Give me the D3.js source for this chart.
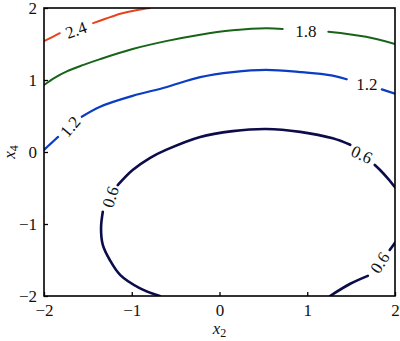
<!DOCTYPE html>
<html><head><meta charset="utf-8">
<script src="https://cdn.jsdelivr.net/npm/d3@7"></script>
<style>body{margin:0;background:#fff}svg{display:block}
svg text{font-family:"Liberation Serif",serif}</style>
</head><body>
<svg id="c" width="400" height="341"></svg>
<script>
// ---- data ----
const xTicks = [-2, -1, 0, 1, 2];
const yTicks = [-2, -1, 0, 1, 2];
const levels = ["0.6", "1.2", "1.8", "2.4"];

// contour 2.4 (segments split where the label sits)
const c24a = [[-2, 1.54], [-1.9, 1.6], [-1.82, 1.65]];
const c24b = [[-1.44, 1.79], [-1.3, 1.85], [-1.13, 1.92], [-0.95, 1.97], [-0.79, 2.0]];
// contour 1.8
const c18a = [[-2, 0.93], [-1.88, 1.03], [-1.74, 1.12], [-1.55, 1.21], [-1.36, 1.29], [-0.99, 1.43], [-0.61, 1.54], [-0.22, 1.63], [0.15, 1.69], [0.53, 1.72], [0.72, 1.71]];
const c18b = [[1.24, 1.67], [1.67, 1.6], [2, 1.5]];
// contour 1.2
const c12a = [[-2, 0.03], [-1.92, 0.12], [-1.84, 0.21]];
const c12b = [[-1.57, 0.49], [-1.36, 0.63], [-0.99, 0.78], [-0.61, 0.9], [-0.22, 1.04], [0.15, 1.11], [0.53, 1.14], [0.92, 1.11], [1.29, 1.06], [1.45, 1.01]];
const c12c = [[1.85, 0.87], [2, 0.81]];
// contour 0.6
const c06a = [[-0.68, -2], [-0.91, -1.89], [-1.13, -1.71], [-1.25, -1.5], [-1.33, -1.29], [-1.35, -1.06], [-1.33, -0.83]];
const c06b = [[-1.16, -0.46], [-0.99, -0.25], [-0.79, -0.08], [-0.61, 0.03], [-0.22, 0.21], [0.15, 0.29], [0.53, 0.32], [0.92, 0.28], [1.29, 0.19], [1.49, 0.1]];
const c06c = [[1.77, -0.18], [1.83, -0.25], [1.92, -0.37], [2, -0.49]];
const c06d = [[2, -1.26], [1.94, -1.36]];
const c06e = [[1.69, -1.72], [1.49, -1.83], [1.26, -2]];

const contourSegments = [
  {level: "2.4", pts: c24a}, {level: "2.4", pts: c24b},
  {level: "1.8", pts: c18a}, {level: "1.8", pts: c18b},
  {level: "1.2", pts: c12a}, {level: "1.2", pts: c12b}, {level: "1.2", pts: c12c},
  {level: "0.6", pts: c06a}, {level: "0.6", pts: c06b}, {level: "0.6", pts: c06c},
  {level: "0.6", pts: c06d}, {level: "0.6", pts: c06e}
];
// contour labels: text, anchor in data coords
const labelText = ["2.4", "1.8", "1.2", "1.2", "0.6", "0.6", "0.6"];
const labelX = [-1.635, 0.985, -1.70, 1.68, -1.24, 1.62, 1.83];
const labelY = [1.69, 1.67, 0.35, 0.94, -0.625, -0.04, -1.54];
const labelAngle = [-20, 0, -50, 0, -72, 25, -57];

// ---- styles ----
const colors = {"2.4": "#e8421c", "1.8": "#176419", "1.2": "#0b3cc4", "0.6": "#0c0c4a"};
const widths = {"2.4": 2, "1.8": 2, "1.2": 2.2, "0.6": 2.6};

const svg = d3.select("#c");
const L = 44, R = 395, T = 8, B = 296;
const x = d3.scaleLinear().domain([-2, 2]).range([L, R]);
const y = d3.scaleLinear().domain([-2, 2]).range([B, T]);

const defs = svg.append("defs");
defs.append("clipPath").attr("id", "clip").append("rect")
  .attr("x", L).attr("y", T).attr("width", R - L).attr("height", B - T);

const line = d3.line().x(d => x(d[0])).y(d => y(d[1])).curve(d3.curveCatmullRom.alpha(0.5));
svg.append("g").attr("clip-path", "url(#clip)")
  .selectAll("path").data(contourSegments).join("path")
  .attr("d", d => line(d.pts))
  .attr("fill", "none")
  .attr("stroke", d => colors[d.level])
  .attr("stroke-width", d => widths[d.level])
  .attr("stroke-linecap", "round");

svg.append("g").selectAll("text").data(labelText).join("text")
  .attr("transform", (d, i) => `translate(${x(labelX[i])},${y(labelY[i])}) rotate(${labelAngle[i]})`)
  .attr("text-anchor", "middle").attr("dominant-baseline", "central")
  .style("font-size", "17px").attr("fill", "#111")
  .text(d => d);

// axes
const fmt = d3.format("d");
const gx = svg.append("g").attr("transform", `translate(0,${B})`)
  .call(d3.axisBottom(x).tickValues(xTicks).tickFormat(fmt).tickSizeInner(-4).tickSizeOuter(0).tickPadding(8));
const gy = svg.append("g").attr("transform", `translate(${L},0)`)
  .call(d3.axisLeft(y).tickValues(yTicks).tickFormat(fmt).tickSizeInner(-4).tickSizeOuter(0).tickPadding(7));
[gx, gy].forEach(g => {
  g.attr("font-family", null).attr("font-size", null);
  g.select(".domain").remove();
  g.selectAll(".tick line").attr("stroke", "#000").attr("stroke-width", 1.3);
  g.selectAll(".tick text").style("font-size", "17px").attr("fill", "#111");
});
gx.selectAll(".tick text").attr("dy", "0.71em");

svg.append("rect").attr("x", L).attr("y", T).attr("width", R - L).attr("height", B - T)
  .attr("fill", "none").attr("stroke", "#000").attr("stroke-width", 1.6);

// axis titles
const xt = svg.append("text").attr("x", (L + R) / 2).attr("y", 334).attr("text-anchor", "middle")
  .style("font-size", "17px").attr("fill", "#111");
xt.append("tspan").attr("font-style", "italic").text("x");
xt.append("tspan").style("font-size", "12px").attr("dy", 3).text("2");
const yt = svg.append("text").attr("transform", `translate(15,${(T + B) / 2}) rotate(-90)`).attr("text-anchor", "middle")
  .style("font-size", "17px").attr("fill", "#111");
yt.append("tspan").attr("font-style", "italic").text("x");
yt.append("tspan").style("font-size", "12px").attr("dy", 3).text("4");
</script>
</body></html>
